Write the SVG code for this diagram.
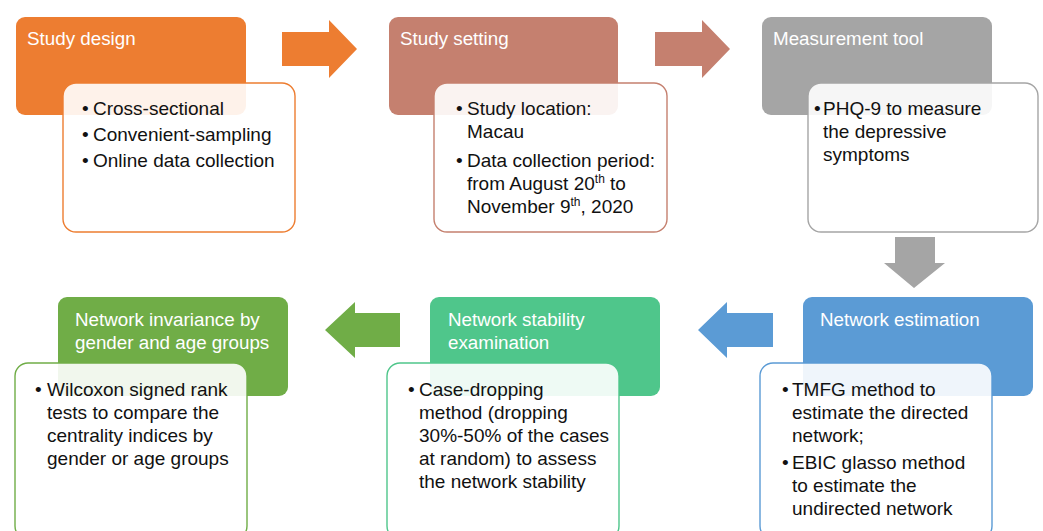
<svg xmlns="http://www.w3.org/2000/svg" width="1043" height="531" viewBox="0 0 1043 531">
<style>
.hd{font-family:"Liberation Sans",Arial,sans-serif;font-size:18.8px;fill:#ffffff}
.tx{font-family:"Liberation Sans",Arial,sans-serif;font-size:19px;fill:#111111}
.bx{fill:#ffffff;fill-opacity:0.9;stroke-width:1.4}
.sup{font-size:12px}
</style>
<rect width="1043" height="531" fill="#ffffff"/>
<g id="connectors">
<path d="M282,32 H329 V20 L357,49 L329,78 V66 H282 Z" fill="#ED7D31"/>
<path d="M655,32 H702 V20 L730,49 L702,78 V66 H655 Z" fill="#C5806F"/>
<path d="M895,237 H935 V263 H945 L914,288 L884,263 H895 Z" fill="#A5A5A5"/>
<path d="M773,313 H727 V302 L698,330 L727,358 V347 H773 Z" fill="#5B9BD5"/>
<path d="M400,313 H355 V302 L325,330 L355,358 V347 H400 Z" fill="#70AD47"/>
</g>
<g id="study-design">
<rect x="16" y="17" width="230" height="98" rx="9" fill="#ED7D31"/>
<text class="hd" x="27" y="45">Study design</text>
<rect class="bx" x="63" y="83" width="232" height="149" rx="13" stroke="#ED7D31"/>
<text class="tx" x="82" y="115">•</text><text class="tx" x="93" y="115">Cross-sectional</text>
<text class="tx" x="82" y="141">•</text><text class="tx" x="93" y="141">Convenient-sampling</text>
<text class="tx" x="82" y="167">•</text><text class="tx" x="93" y="167">Online data collection</text>
</g>
<g id="study-setting">
<rect x="389" y="17" width="229" height="98" rx="9" fill="#C5806F"/>
<text class="hd" x="400" y="45">Study setting</text>
<rect class="bx" x="434" y="83" width="233" height="149" rx="13" stroke="#C5806F"/>
<text class="tx" x="456" y="115">•</text><text class="tx" x="467" y="115">Study location:</text>
<text class="tx" x="467" y="138">Macau</text>
<text class="tx" x="456" y="167">•</text><text class="tx" x="467" y="167">Data collection period:</text>
<text class="tx" x="467" y="190">from August 20<tspan class="sup" dy="-7">th</tspan><tspan dy="7"> to</tspan></text>
<text class="tx" x="467" y="213">November 9<tspan class="sup" dy="-7">th</tspan><tspan dy="7">, 2020</tspan></text>
</g>
<g id="measurement-tool">
<rect x="762" y="17" width="230" height="98" rx="9" fill="#A5A5A5"/>
<text class="hd" x="773" y="45">Measurement tool</text>
<rect class="bx" x="808" y="83" width="230" height="149" rx="13" stroke="#A5A5A5"/>
<text class="tx" x="814" y="115">•</text><text class="tx" x="823" y="115">PHQ-9 to measure</text>
<text class="tx" x="823" y="138">the depressive</text>
<text class="tx" x="823" y="161">symptoms</text>
</g>
<g id="network-estimation">
<rect x="803" y="297" width="230" height="99" rx="9" fill="#5B9BD5"/>
<text class="hd" x="820" y="326">Network estimation</text>
<rect class="bx" x="760" y="363" width="232" height="176" rx="13" stroke="#5B9BD5"/>
<text class="tx" x="782" y="396">•</text><text class="tx" x="792" y="396">TMFG method to</text>
<text class="tx" x="792" y="419">estimate the directed</text>
<text class="tx" x="792" y="442">network;</text>
<text class="tx" x="782" y="469">•</text><text class="tx" x="792" y="469">EBIC glasso method</text>
<text class="tx" x="792" y="492">to estimate the</text>
<text class="tx" x="792" y="515">undirected network</text>
</g>
<g id="network-stability">
<rect x="430" y="297" width="230" height="99" rx="9" fill="#4FC68B"/>
<text class="hd" x="448" y="326">Network stability</text>
<text class="hd" x="448" y="349">examination</text>
<rect class="bx" x="387" y="363" width="232" height="176" rx="13" stroke="#4FC68B"/>
<text class="tx" x="408" y="396">•</text><text class="tx" x="419" y="396">Case-dropping</text>
<text class="tx" x="419" y="419">method (dropping</text>
<text class="tx" x="419" y="442">30%-50% of the cases</text>
<text class="tx" x="419" y="465">at random) to assess</text>
<text class="tx" x="419" y="488">the network stability</text>
</g>
<g id="network-invariance">
<rect x="58" y="297" width="230" height="99" rx="9" fill="#70AD47"/>
<text class="hd" x="75" y="326">Network invariance by</text>
<text class="hd" x="75" y="349">gender and age groups</text>
<rect class="bx" x="15" y="363" width="232" height="176" rx="13" stroke="#70AD47"/>
<text class="tx" x="35" y="396">•</text><text class="tx" x="47" y="396">Wilcoxon signed rank</text>
<text class="tx" x="47" y="419">tests to compare the</text>
<text class="tx" x="47" y="442">centrality indices by</text>
<text class="tx" x="47" y="465">gender or age groups</text>
</g>
</svg>
